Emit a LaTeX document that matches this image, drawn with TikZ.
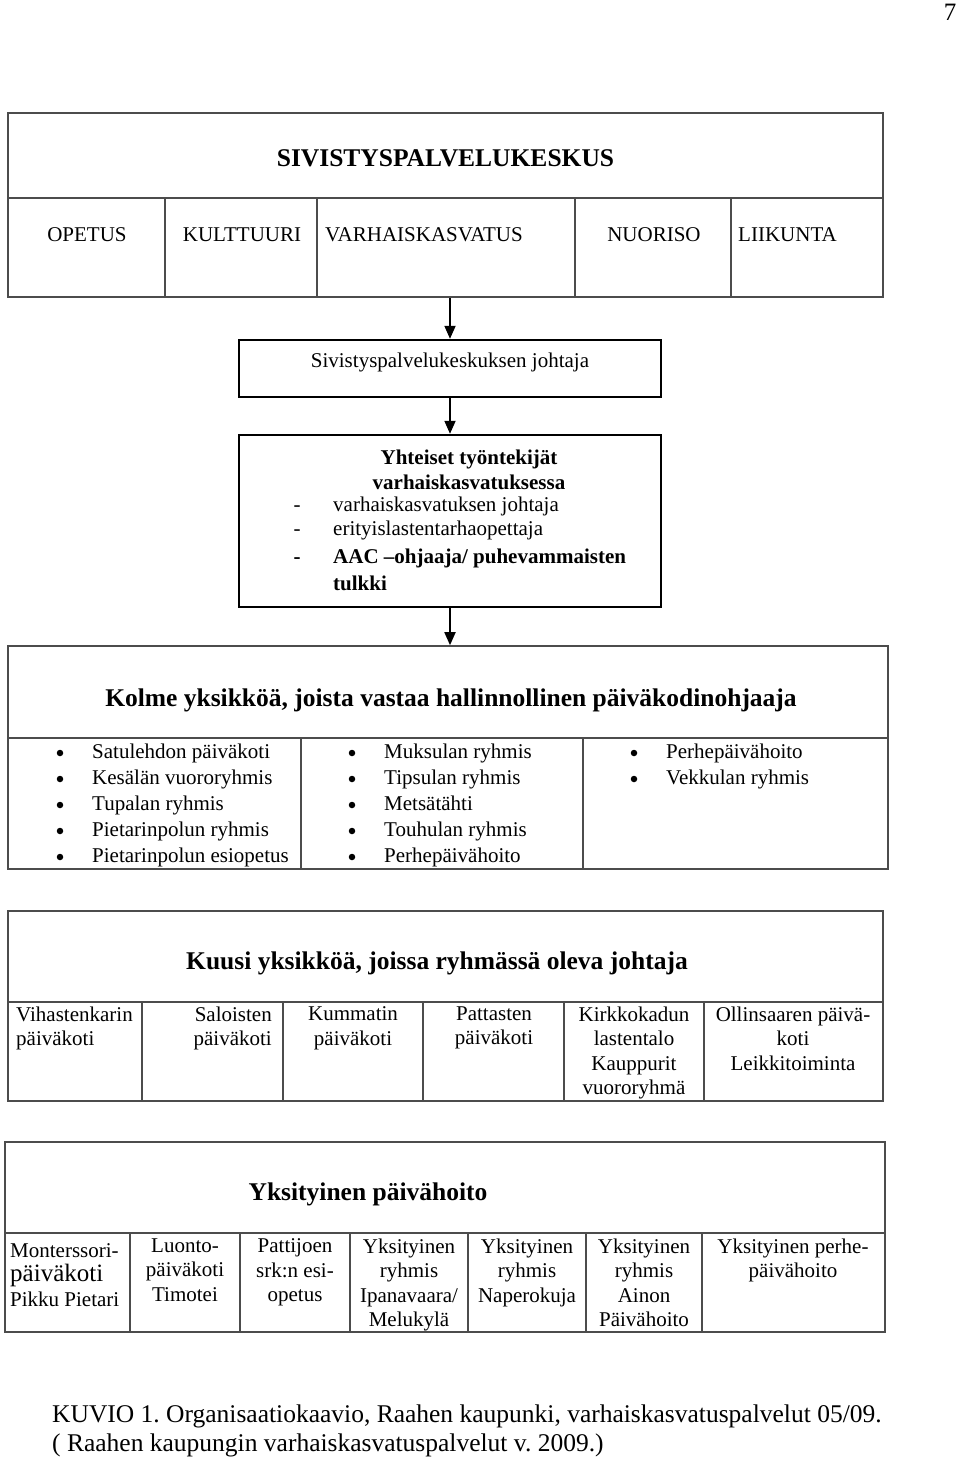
\documentclass[tikz,border=0pt]{standalone}
\usepackage{fontspec}
\setmainfont{Liberation Serif}
\usetikzlibrary{arrows.meta}

\begin{document}
\frenchspacing
\begin{tikzpicture}
[x=1pt,y=-1pt,
  tableFrame/.style={draw=black!70,line width=1.6pt,inner sep=0pt},
  tableLine/.style={draw=black!70,line width=1.6pt},
  boxFrame/.style={draw,line width=2.4pt,inner sep=0pt},
  arrowLine/.style={-{Triangle[width=11pt,length=13pt]},line width=1.8pt},
  bulletDot/.style={circle,fill,inner sep=0pt,minimum size=6.5pt},
  cellText/.style={inner sep=0pt,font=\fontsize{21}{24.5}\selectfont},
  boldText/.style={inner sep=0pt,font=\fontsize{21}{25}\selectfont\bfseries},
  titleText/.style={inner sep=0pt,font=\fontsize{25.5}{29}\selectfont\bfseries}]
\useasboundingbox (0,0) rectangle (960,1462);
\node (sivu) at (950,12) [cellText,font=\fontsize{25}{29}\selectfont] {7};

%% sivistyspalvelukeskus
\node (keskusBox) at (445.5,205) [tableFrame,minimum width=875,minimum height=184] {};
\draw[tableLine] (8,198) -- (883,198);
\foreach \x in {165,317,575,731}
  \draw[tableLine] (\x,198) -- (\x,297);
\node (keskus) at (445.5,158) [titleText] {SIVISTYSPALVELUKESKUS};
\foreach \nodename/\x/\anc/\txt in {
  opetus/87/center/OPETUS,
  kulttuuri/242/center/KULTTUURI,
  varhais/325/west/VARHAISKASVATUS,
  nuoriso/654/center/NUORISO,
  liikunta/738/west/LIIKUNTA}
{
  \node (\nodename) at (\x,235) [cellText,anchor=\anc] {\txt};
}

%% johtaja ja yhteiset
\node (johtajaBox) at (450,368.5) [boxFrame,minimum width=422,minimum height=57] {};
\node (johtaja) at (450,362) [cellText] {Sivistyspalvelukeskuksen johtaja};
\node (yhteisetBox) at (450,521) [boxFrame,minimum width=422,minimum height=172] {};
\node (yhteiset) at (469,469.5) [boldText,align=center] {Yhteiset työntekijät\\varhaiskasvatuksessa};
\foreach \nodename/\y/\txt in {
  vjohtaja/506/varhaiskasvatuksen johtaja,
  erityis/530/erityislastentarhaopettaja}
{
  \node (\nodename) at (333,\y) [cellText,anchor=west] {\txt};
  \node (d\nodename) at ([xshift=-36pt]\nodename.base west) [cellText,anchor=base] {-};
}
\node (aac) at (333,558) [boldText,anchor=west] {AAC –ohjaaja/ puhevammaisten};
\node (daac) at ([xshift=-36pt]aac.base west) [boldText,anchor=base] {-};
\node (tulkki) at (333,583) [boldText,anchor=west] {tulkki};

%% arrows
\draw[arrowLine] (johtajaBox.north |- keskusBox.south) -- (johtajaBox.north);
\draw[arrowLine] (johtajaBox.south) -- (yhteisetBox.north);

%% kolme yksikkoa
\node (kolmeBox) at (448,757.5) [tableFrame,minimum width=880,minimum height=223] {};
\draw[tableLine] (8,738) -- (888,738);
\foreach \x in {301,583}
  \draw[tableLine] (\x,738) -- (\x,869);
\node (kolme) at (451,700) [titleText] {Kolme yksikköä, joista vastaa hallinnollinen päiväkodinohjaaja};
\foreach \nodename/\x/\y/\txt in {
  satulehto/60/752/Satulehdon päiväkoti,
  kesala/60/778/Kesälän vuororyhmis,
  tupala/60/804/Tupalan ryhmis,
  pietari/60/830/Pietarinpolun ryhmis,
  esiopetus/60/856/Pietarinpolun esiopetus,
  muksula/352/752/Muksulan ryhmis,
  tipsula/352/778/Tipsulan ryhmis,
  metsatahti/352/804/Metsätähti,
  touhula/352/830/Touhulan ryhmis,
  perheA/352/856/Perhepäivähoito,
  perheB/634/752/Perhepäivähoito,
  vekkula/634/778/Vekkulan ryhmis}
{
  \node (\nodename) at (\x+32,\y+6.5) [cellText,anchor=base west] {\txt};
  \node (b\nodename) at ([xshift=-32pt,yshift=5.5pt]\nodename.base west) [bulletDot] {};
}
\draw[arrowLine] (yhteisetBox.south) -- (yhteisetBox.south |- kolmeBox.north);

%% kuusi yksikkoa
\node (kuusiBox) at (445.5,1006) [tableFrame,minimum width=875,minimum height=190] {};
\draw[tableLine] (8,1002) -- (883,1002);
\foreach \x in {142,283,423,564,704}
  \draw[tableLine] (\x,1002) -- (\x,1101);
\node (kuusi) at (437,963) [titleText] {Kuusi yksikköä, joissa ryhmässä oleva johtaja};
\node (vihasto) at (16,1006.5) [cellText,anchor=north west,align=left] {Vihastenkarin\\päiväkoti};
\node (saloinen) at (272,1006.5) [cellText,anchor=north east,align=right] {Saloisten\\päiväkoti};
\node (kummatti) at (353,1006.5) [cellText,anchor=north,align=center] {Kummatin\\päiväkoti};
\node (pattanen) at (494,1006.5) [cellText,anchor=north,align=center] {Pattasten\\päiväkoti};
\node (kirkko) at (634,1006.5) [cellText,anchor=north,align=center] {Kirkkokadun\\lastentalo\\Kauppurit\\vuororyhmä};
\node (ollin) at (793,1006.5) [cellText,anchor=north,align=center] {Ollinsaaren päivä-\\koti\\Leikkitoiminta};

%% yksityinen
\node (yksBox) at (445,1237) [tableFrame,minimum width=880,minimum height=190] {};
\draw[tableLine] (5,1233) -- (885,1233);
\foreach \x in {130,240,350,468,586,702}
  \draw[tableLine] (\x,1233) -- (\x,1332);
\node (yksityinen) at (368,1194) [titleText] {Yksityinen päivähoito};
\node (montessori) at (10,1275) [cellText,anchor=west,align=left] {Monterssori-\\{\fontsize{25}{29}\selectfont päiväkoti}\\Pikku Pietari};
\node (luonto) at (185,1238.5) [cellText,anchor=north,align=center] {Luonto-\\päiväkoti\\Timotei};
\node (pattijoki) at (295,1238.5) [cellText,anchor=north,align=center] {Pattijoen\\srk:n esi-\\opetus};
\node (ipana) at (409,1238.5) [cellText,anchor=north,align=center] {Yksityinen\\ryhmis\\Ipanavaara/\\Melukylä};
\node (napero) at (527,1238.5) [cellText,anchor=north,align=center] {Yksityinen\\ryhmis\\Naperokuja};
\node (ainon) at (644,1238.5) [cellText,anchor=north,align=center] {Yksityinen\\ryhmis\\Ainon\\Päivähoito};
\node (perhe) at (793,1238.5) [cellText,anchor=north,align=center] {Yksityinen perhe-\\päivähoito};

%% kuvateksti
\node (kuvio) at (52,1430.5) [cellText,font=\fontsize{25.5}{29}\selectfont,anchor=west,align=left] {KUVIO 1. Organisaatiokaavio, Raahen kaupunki, varhaiskasvatuspalvelut 05/09.\\( Raahen kaupungin varhaiskasvatuspalvelut v. 2009.)};
\end{tikzpicture}
\end{document}
